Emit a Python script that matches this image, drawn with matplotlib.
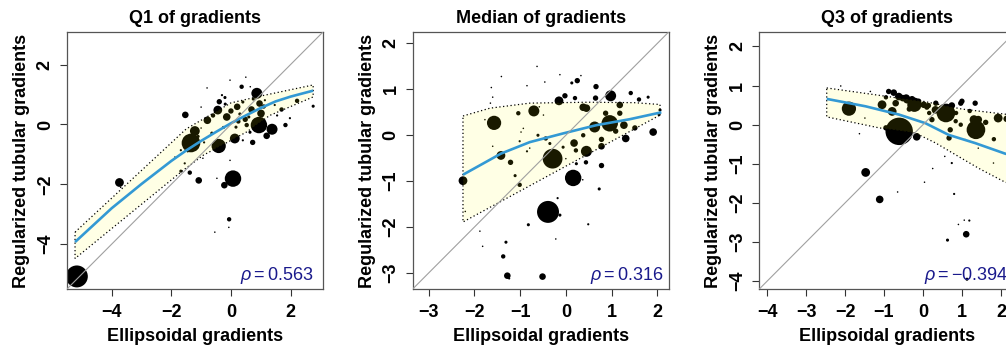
import numpy as np
import matplotlib
matplotlib.use("Agg")
import matplotlib.pyplot as plt
from matplotlib.patches import Polygon

plt.rcParams["font.family"] = "Liberation Sans"
plt.rcParams["mathtext.fontset"] = "custom"
plt.rcParams["mathtext.rm"] = "Liberation Sans"
plt.rcParams["mathtext.it"] = "Liberation Sans:italic"

# ---- Q1 of gradients ----
q1_x = [-5.17, -3.74, -1.34, -1.21, -1.53, -0.79, -0.41, -0.44, -0.39, -0.14,
        0.13, 0.07, -0.22, -1.08, -1.38, -0.06, 0.87, 0.94, 1.38, 1.20,
        0.73, 1.83, 2.22, 2.76, 0.36, 0.21, 0.48, 0.69, 1.01, 0.96,
        1.70, -0.19, 0.53, -0.03, -0.54, 0.65, -0.03, -0.80, 0.50, -1.00,
        -1.68, -0.07, -0.47, -1.00, -0.94, 0.30, 0.17, 1.04, 1.47, 0.64,
        -0.64, -0.30, 1.14, 1.98, 0.40, -1.68, -1.88, -0.60, 0.00, 0.25,
        -0.25, 0.60, 0.75, 1.10, -1.10, -0.90, -0.20, 0.40, -1.45, -1.55,
        1.55, -3.70]
q1_y = [-5.08, -1.94, -0.62, -0.22, 0.32, 0.14, -0.72, 0.48, 0.76, 0.25,
        -0.47, -1.81, -2.03, -1.87, -1.61, -3.17, 1.04, -0.02, -0.16, -0.38,
        -0.60, -0.02, 0.79, 0.61, 1.26, 0.59, 0.17, 0.50, 0.37, 0.70,
        0.50, 0.68, -0.02, -1.20, -3.60, 1.26, 1.48, 1.22, 1.58, 0.58,
        -1.56, -3.44, -1.80, -0.12, -1.13, 0.35, -0.09, 0.28, 0.65, -0.26,
        -0.29, 0.98, 0.81, 0.21, -0.53, -0.86, -1.09, 0.30, 0.45, 0.10,
        -0.10, 0.25, 0.85, 0.60, -0.40, -0.60, 0.90, 0.75, -0.90, -1.30,
        0.30, -2.10]
q1_w = [100, 16, 72, 20, 9, 12, 42, 16, 6, 12,
        20, 56, 9, 9, 4, 4, 25, 56, 25, 9,
        6, 4, 4, 2, 4, 9, 6, 9, 12, 9,
        4, 2, 4, 0.5, 0.5, 0.5, 0.5, 0.5, 0.5, 0.5,
        2, 0.5, 0.5, 0.5, 0.5, 2, 2, 2, 1, 2,
        2, 1, 1, 1, 1, 1, 0.5, 4, 6, 4,
        2, 2, 2, 4, 2, 1, 2, 2, 1, 1,
        1, 0.5]
q1_hi_x = [-5.23, -1.50, 0.00, 1.00, 2.76]
q1_hi_y = [-3.60, -0.15, 0.72, 0.95, 1.32]
q1_lo_x = [-5.23, -1.60, -0.93, 0.53, 1.30, 2.76]
q1_lo_y = [-4.48, -1.53, -1.03, -0.25, 0.30, 0.92]
q1_fit_x = [-5.23, -4, -3, -2, -1.5, -1, -0.5, 0, 0.5, 1, 1.5, 2, 2.76]
q1_fit_y = [-3.93, -2.80, -1.99, -1.22, -0.87, -0.55, -0.25, 0.04, 0.30, 0.55, 0.77, 0.93, 1.13]

# ---- Median of gradients ----
md_x = [-2.25, -1.57, -1.42, -0.70, -0.29, -0.39, 0.16, -0.51, -1.28, -1.37,
        -1.31, -0.82, -1.24, 0.98, 0.96, 0.63, 1.27, 1.31, 1.51, 1.91,
        2.04, 1.42, 1.60, 1.80, 0.45, 0.45, 0.18, 0.78, 0.78, 0.44,
        0.23, 0.22, 0.38, 0.73, 0.49, -0.13, -0.18, -0.15, -0.02, 0.20,
        0.25, 0.13, 0.66, 0.65, 0.38, -1.04, -1.21, -1.01, -1.11, -1.41,
        -1.63, -1.60, -0.63, -0.13, -0.46, 0.33, -1.88, -1.82, -0.22, -2.20,
        -1.77, -0.44, -0.35, -0.06, -0.61, -0.79, -0.93, -0.49, -0.85, -0.58,
        1.09, 1.18, 1.18, 0.87, 2.06, -1.01, -0.98, -0.85, -1.60, -1.65,
        0.37, 0.00, 0.78]
md_y = [-0.99, 0.27, -0.44, 0.53, -0.51, -1.67, -0.93, -3.08, -3.06, -2.64,
        -2.33, -1.95, -3.12, 0.86, 0.26, 0.18, 0.22, -0.07, 0.16, 0.07,
        0.45, 0.92, 0.78, 0.83, 0.59, -0.35, -0.17, -0.24, -0.66, -0.59,
        -0.62, -0.33, 0.00, -1.17, -1.94, -1.74, -1.37, 0.75, 0.86, 0.81,
        1.19, 1.14, 1.06, 0.81, 0.61, 0.48, -0.59, -1.08, -0.88, 1.28,
        1.04, 0.83, 1.50, 1.32, 1.16, 1.30, -2.09, -2.42, -2.26, -1.66,
        0.34, -0.07, -0.18, -0.26, 0.00, -0.28, 0.15, 0.44, 1.08, 0.62,
        0.09, 0.48, 0.66, 0.48, 0.55, -0.13, 0.07, -0.35, -0.24, 0.70,
        -0.97, -0.51, -0.09]
md_w = [16, 42, 16, 25, 81, 100, 56, 9, 9, 4,
        2, 2, 1, 25, 56, 25, 12, 12, 6, 12,
        2, 4, 4, 2, 12, 25, 12, 9, 6, 4,
        2, 4, 4, 2, 1, 2, 1, 16, 6, 4,
        6, 2, 6, 6, 12, 4, 6, 4, 2, 0.5,
        0.5, 0.5, 0.5, 0.5, 0.5, 0.5, 0.5, 0.5, 0.5, 0.5,
        0.5, 4, 2, 2, 2, 0.5, 0.5, 0.5, 0.5, 0.5,
        6, 6, 9, 6, 2, 1, 0.5, 1, 0.5, 0.5,
        0.5, 0.5, 6]
md_hi_x = [-2.25, -1.66, -0.79, 0.50, 1.50, 2.06]
md_hi_y = [0.42, 0.59, 0.70, 0.72, 0.71, 0.67]
md_lo_x = [-2.25, 2.06]
md_lo_y = [-1.89, 0.44]
md_fit_x = [-2.25, -1.42, -0.79, -0.06, 0.67, 1.40, 2.09]
md_fit_y = [-0.86, -0.40, -0.15, 0.04, 0.22, 0.35, 0.50]

# ---- Q3 of gradients ----
q3_x = [-1.90, -1.47, -1.11, -0.61, -0.79, -1.05, -0.22, -0.43, -0.16, 0.59,
        0.33, 0.97, 1.34, 1.36, 1.31, 1.61, 1.93, 1.82, 0.84, 0.97,
        0.67, 0.16, -1.63, -0.95, 0.74, 0.80, 1.19, 1.11, 0.63, 1.13,
        0.91, 1.06, -0.65, 0.04, 0.25, 0.56, -0.88, -0.75, -0.62, -0.52,
        -0.41, -0.28, -0.11, 0.02, 0.14, 0.32, -2.11, -1.35, -1.49, 1.00,
        0.74, 0.23, 0.70, 1.42, 2.15, 1.08, 1.42, 1.81, -0.70, -0.35,
        0.45, 0.85, 1.20, -0.95, 0.10]
q3_y = [0.41, -1.22, -1.91, -0.17, 0.34, 0.51, 0.51, 0.68, -0.31, 0.30,
        0.55, 0.55, 0.55, -0.13, 0.13, 0.06, 0.17, -0.37, 0.09, 0.00,
        -0.34, 0.30, -0.23, -0.08, -0.98, -1.77, -2.45, -2.80, -2.95, -3.95,
        -2.55, -2.44, -1.72, -1.47, -1.12, -0.81, 0.85, 0.82, 0.72, 0.68,
        0.64, 0.65, 0.60, 0.51, 0.49, 0.38, 0.99, 0.85, 0.17, 0.60,
        0.49, 0.13, -0.13, 0.13, 0.15, -0.38, -0.60, -0.98, 0.55, 0.40,
        0.42, 0.30, 0.35, 0.70, 0.45]
q3_w = [42, 16, 12, 156, 16, 16, 42, 12, 12, 72,
        6, 6, 6, 72, 16, 6, 16, 4, 4, 4,
        6, 4, 0.5, 6, 1, 1, 1, 9, 2, 2,
        0.5, 0.5, 0.5, 0.5, 0.5, 0.5, 6, 9, 12, 9,
        12, 9, 6, 9, 6, 12, 0.5, 0.5, 0.5, 6,
        9, 6, 6, 12, 9, 0.5, 0.5, 0.5, 9, 6,
        4, 4, 4, 4, 6]
q3_hi_x = [-2.47, -1.47, -0.62, 0.00, 0.50, 1.00, 1.50, 2.10, 2.60]
q3_hi_y = [0.94, 0.80, 0.68, 0.60, 0.50, 0.40, 0.34, 0.27, 0.22]
q3_lo_x = [-2.47, -1.13, -0.20, 0.33, 0.84, 1.44, 2.11, 2.60]
q3_lo_y = [0.20, -0.08, -0.21, -0.47, -0.77, -1.12, -1.47, -1.60]
q3_fit_x = [-2.47, -1.47, -0.62, 0.06, 0.66, 1.34, 2.11, 2.60]
q3_fit_y = [0.66, 0.47, 0.26, 0.04, -0.26, -0.47, -0.74, -0.85]

titles = ["Q1 of gradients", "Median of gradients", "Q3 of gradients"]
rhos = ["0.563", "0.316", "\u22120.394"]
lims = [(-5.50, 3.09), (-3.35, 2.25), (-4.20, 2.37)]
ticks = [[-4, -2, 0, 2], [-3, -2, -1, 0, 1, 2], [-4, -3, -2, -1, 0, 1, 2]]

panels = [
    (q1_x, q1_y, q1_w, q1_hi_x, q1_hi_y, q1_lo_x, q1_lo_y, q1_fit_x, q1_fit_y),
    (md_x, md_y, md_w, md_hi_x, md_hi_y, md_lo_x, md_lo_y, md_fit_x, md_fit_y),
    (q3_x, q3_y, q3_w, q3_hi_x, q3_hi_y, q3_lo_x, q3_lo_y, q3_fit_x, q3_fit_y),
]

W, H = 1006, 351
fig = plt.figure(figsize=(W / 100, H / 100), dpi=100)
lefts = [67, 412.7, 759.3]
rho_xpos = [0.962, 0.980, 0.972]
fs = 13

for i, (x, y, w, hx, hy, lx, ly, fx, fy) in enumerate(panels):
    ax = fig.add_axes([lefts[i] / W, (H - 289) / H, 256 / W, 257 / H])
    ax.set_xlim(*lims[i])
    ax.set_ylim(*lims[i])

    # points sized by weight
    ax.scatter(x, y, s=2.5 * np.asarray(w), c="black", edgecolors="none", zorder=2)

    # confidence band drawn over the points
    verts = list(zip(hx, hy)) + list(zip(lx, ly))[::-1]
    band = Polygon(verts, closed=True, facecolor=(1, 1, 0, 0.1), edgecolor="black",
                   linestyle=(0, (1, 2)), linewidth=0.9, zorder=3)
    ax.add_patch(band)

    ax.plot(fx, fy, color="#3399d4", lw=1.9, zorder=4, solid_capstyle="butt")
    ax.axline((0, 0), slope=1, color="#a0a0a0", lw=0.8, zorder=5)

    ax.set_xticks(ticks[i])
    ax.set_yticks(ticks[i])
    ax.tick_params(length=5, width=0.8, color="#333333", pad=5.5, labelsize=fs)
    for lbl in ax.get_xticklabels() + ax.get_yticklabels():
        lbl.set_fontweight("bold")
    ax.tick_params(axis="y", labelrotation=90, pad=4.5)
    for lbl in ax.get_yticklabels():
        lbl.set_va("center")
    for sp in ax.spines.values():
        sp.set_color("#555555")
        sp.set_linewidth(0.9)

    ax.set_title(titles[i], fontsize=fs, fontweight="bold", pad=6.5)
    ax.set_xlabel("Ellipsoidal gradients", fontsize=fs, fontweight="bold", labelpad=5)
    ax.set_ylabel("Regularized tubular gradients", fontsize=fs, fontweight="bold", labelpad=5)

    ax.text(rho_xpos[i], 0.035, r"$\rho = $" + rhos[i], transform=ax.transAxes,
            ha="right", va="baseline", fontsize=13, color="#1a1a8c", zorder=6)

fig.savefig("out.png", dpi=100)
